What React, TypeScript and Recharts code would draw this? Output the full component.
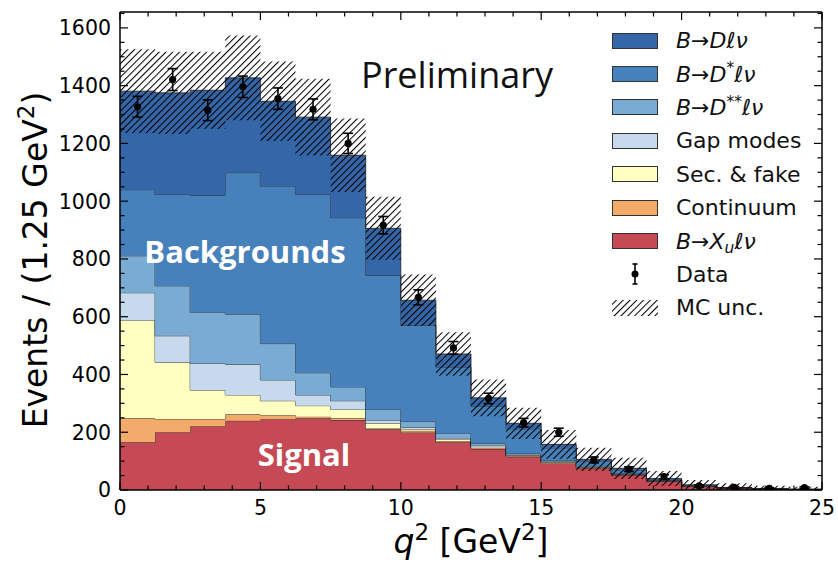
import React from "react";
import {
  ComposedChart,
  Area,
  Scatter,
  ErrorBar,
  XAxis,
  YAxis,
  Legend,
  ReferenceLine,
} from "recharts";

// q^2 bin edges [GeV^2], 1.25 GeV^2 wide bins
const binEdges = [
  0, 1.25, 2.5, 3.75, 5, 6.25, 7.5, 8.75, 10, 11.25, 12.5, 13.75, 15, 16.25,
  17.5, 18.75, 20, 21.25, 22.5, 23.75, 25,
];

// MC templates, events per bin (stack order bottom -> top)
const xuVals = [165, 200, 221, 240, 245, 248, 242, 210, 199, 165, 142, 115, 92, 75, 52, 30, 12, 6, 3, 1.5];
const contVals = [83, 46, 25, 22, 15, 6, 6, 3, 6, 5, 4, 3, 3, 2, 1, 1, 0.5, 0.3, 0.2, 0.1];
const secVals = [340, 196, 100, 67, 49, 38, 31, 18, 6, 6, 4, 2, 2, 2, 1, 1, 0.5, 0.3, 0.2, 0.1];
const gapVals = [95, 92, 92, 106, 72, 37, 30, 11, 6, 4, 5, 2, 2, 1, 1, 1, 0.5, 0.4, 0.2, 0.1];
const dssVals = [128, 173, 177, 174, 126, 77, 48, 37, 20, 16, 6, 4, 4, 3, 2, 1, 0.5, 0.3, 0.2, 0.1];
const dstVals = [229, 316, 406, 490, 545, 617, 586, 465, 334, 229, 129, 86, 43, 16, 13, 2, 2, 1, 0.7, 0.5];
const dVals = [341, 352, 363, 328, 294, 268, 216, 162, 86, 46, 29, 19, 12, 7, 5, 4, 2, 0.7, 0.5, 0.6];

// total MC uncertainty per bin
const mcUnc = [145, 142, 133, 147, 138, 133, 127, 109, 89, 75, 64, 54, 50, 40, 37, 26, 17, 14, 10, 8];

// data
const dataVals = [1327, 1421, 1315, 1396, 1355, 1318, 1200, 917, 667, 492, 317, 233, 200, 104, 72, 46, 14, 9, 6, 8];
const dataErrs = [36, 38, 36, 37, 37, 36, 35, 30, 26, 22, 18, 15, 14, 10, 8, 7, 4, 3, 2, 3];

const xTicks = [0, 1, 2, 3, 4, 5, 6, 7, 8, 9, 10, 11, 12, 13, 14, 15, 16, 17, 18, 19, 20, 21, 22, 23, 24, 25];
const xMajor = [0, 5, 10, 15, 20, 25];
const yTicks = [
  0, 50, 100, 150, 200, 250, 300, 350, 400, 450, 500, 550, 600, 650, 700, 750, 800,
  850, 900, 950, 1000, 1050, 1100, 1150, 1200, 1250, 1300, 1350, 1400, 1450, 1500,
  1550, 1600, 1650,
];
const yMajor = [0, 200, 400, 600, 800, 1000, 1200, 1400, 1600];
const Y_MAX = 1655;

const colors = {
  d: "#3466a8",
  dst: "#4781bb",
  dss: "#7aabd3",
  gap: "#c7d9ec",
  sec: "#ffffc2",
  cont: "#f2ab6b",
  xu: "#c64a55",
};

const W = 838;
const H = 564;
const PLOT_TOP = 12;
const PLOT_RIGHT = 822;
const FONT = "'DejaVu Sans', sans-serif";
const HATCH = 4.8;

// stepAfter needs one extra point at the right edge repeating the last bin
const histRows = binEdges.map((x, i) => {
  const k = Math.min(i, xuVals.length - 1);
  const total = xuVals[k] + contVals[k] + secVals[k] + gapVals[k] + dssVals[k] + dstVals[k] + dVals[k];
  return {
    x,
    xu: xuVals[k],
    cont: contVals[k],
    sec: secVals[k],
    gap: gapVals[k],
    dss: dssVals[k],
    dst: dstVals[k],
    d: dVals[k],
    band: [total - mcUnc[k], total + mcUnc[k]],
  };
});

const dataPoints = dataVals.map((y, i) => ({
  x: (binEdges[i] + binEdges[i + 1]) / 2,
  y,
  err: dataErrs[i],
}));

function XTick(props: any) {
  const { x, y, payload } = props;
  const major = xMajor.includes(payload.value);
  const len = major ? 8 : 4.5;
  return (
    <g>
      <line x1={x} x2={x} y1={y} y2={y - len} stroke="#000" strokeWidth={1.2} />
      <line x1={x} x2={x} y1={PLOT_TOP} y2={PLOT_TOP + len} stroke="#000" strokeWidth={1.2} />
      {major && (
        <text x={x} y={y + 25} textAnchor="middle" fontSize={20.5} fontFamily={FONT} fill="#000">
          {payload.value}
        </text>
      )}
    </g>
  );
}

function YTick(props: any) {
  const { x, y, payload } = props;
  const major = yMajor.includes(payload.value);
  const len = major ? 8 : 4.5;
  return (
    <g>
      <line x1={x} x2={x + len} y1={y} y2={y} stroke="#000" strokeWidth={1.2} />
      <line x1={PLOT_RIGHT} x2={PLOT_RIGHT - len} y1={y} y2={y} stroke="#000" strokeWidth={1.2} />
      {major && (
        <text x={x - 9} y={y} dy="0.36em" textAnchor="end" fontSize={20.5} fontFamily={FONT} fill="#000">
          {payload.value}
        </text>
      )}
    </g>
  );
}

const sup = (s: string) => (
  <span style={{ fontSize: "0.7em", position: "relative", top: "-0.55em" }}>{s}</span>
);
const sub = (s: string) => (
  <span style={{ fontSize: "0.7em", position: "relative", top: "0.3em", fontStyle: "italic" }}>{s}</span>
);

const legendItems: { key: string; label: React.ReactNode }[] = [
  { key: "d", label: <><i>B</i>→<i>D</i><i>ℓν</i></> },
  { key: "dst", label: <><i>B</i>→<i>D</i>{sup("*")}<i>ℓν</i></> },
  { key: "dss", label: <><i>B</i>→<i>D</i>{sup("**")}<i>ℓν</i></> },
  { key: "gap", label: "Gap modes" },
  { key: "sec", label: "Sec. & fake" },
  { key: "cont", label: "Continuum" },
  { key: "xu", label: <><i>B</i>→<i>X</i>{sub("u")}<i>ℓν</i></> },
  { key: "data", label: "Data" },
  { key: "unc", label: "MC unc." },
];

function HatchPattern({ id }: { id: string }) {
  return (
    <pattern id={id} patternUnits="userSpaceOnUse" width={HATCH} height={HATCH} patternTransform="rotate(45)">
      <line x1={0} y1={0} x2={0} y2={HATCH} stroke="#000" strokeWidth={2.1} />
    </pattern>
  );
}

function LegendBox() {
  return (
    <div style={{ fontFamily: FONT, fontSize: 22, color: "#111" }}>
      {legendItems.map((it) => (
        <div key={it.key} style={{ height: 33.4, display: "flex", alignItems: "center", whiteSpace: "nowrap" }}>
          <svg width={46} height={22} style={{ flex: "none", marginRight: 18 }}>
            <defs>
              <HatchPattern id="legHatch" />
            </defs>
            {it.key === "data" ? (
              <g>
                <line x1={23} x2={23} y1={1} y2={21} stroke="#000" strokeWidth={1.6} />
                <line x1={20.5} x2={25.5} y1={1} y2={1} stroke="#000" strokeWidth={1.6} />
                <line x1={20.5} x2={25.5} y1={21} y2={21} stroke="#000" strokeWidth={1.6} />
                <circle cx={23} cy={11} r={3.5} fill="#000" />
              </g>
            ) : it.key === "unc" ? (
              <rect x={0} y={3} width={46} height={16} fill="url(#legHatch)" />
            ) : (
              <rect
                x={0.5}
                y={3.5}
                width={45}
                height={15}
                fill={(colors as any)[it.key]}
                stroke="#333"
                strokeWidth={1}
              />
            )}
          </svg>
          <span>{it.label}</span>
        </div>
      ))}
    </div>
  );
}

function DataDot(props: any) {
  const { cx, cy } = props;
  return <circle cx={cx} cy={cy} r={3.6} fill="#000" />;
}

export default function App() {
  const edge = "#1f1f1f";
  return (
    <div style={{ width: W, height: H, position: "relative" }}>
      <style>{"html,body{margin:0;padding:0;overflow:hidden;background:#fff}"}</style>
      <ComposedChart
        width={W}
        height={H}
        data={histRows}
        margin={{ top: PLOT_TOP, right: W - PLOT_RIGHT, bottom: 0, left: 0 }}
      >
        <defs>
          <HatchPattern id="mcHatch" />
        </defs>
        <Area dataKey="xu" stackId="mc" type="stepAfter" fill={colors.xu} fillOpacity={1} stroke={edge} strokeWidth={0.8} isAnimationActive={false} />
        <Area dataKey="cont" stackId="mc" type="stepAfter" fill={colors.cont} fillOpacity={1} stroke={edge} strokeWidth={0.8} isAnimationActive={false} />
        <Area dataKey="sec" stackId="mc" type="stepAfter" fill={colors.sec} fillOpacity={1} stroke={edge} strokeWidth={0.8} isAnimationActive={false} />
        <Area dataKey="gap" stackId="mc" type="stepAfter" fill={colors.gap} fillOpacity={1} stroke={edge} strokeWidth={0.8} isAnimationActive={false} />
        <Area dataKey="dss" stackId="mc" type="stepAfter" fill={colors.dss} fillOpacity={1} stroke={edge} strokeWidth={0.8} isAnimationActive={false} />
        <Area dataKey="dst" stackId="mc" type="stepAfter" fill={colors.dst} fillOpacity={1} stroke={edge} strokeWidth={0.8} isAnimationActive={false} />
        <Area dataKey="d" stackId="mc" type="stepAfter" fill={colors.d} fillOpacity={1} stroke={edge} strokeWidth={0.8} isAnimationActive={false} />
        <Area dataKey="band" type="stepAfter" fill="url(#mcHatch)" fillOpacity={1} stroke="none" isAnimationActive={false} />
        <Scatter data={dataPoints} dataKey="y" fill="#000" shape={DataDot} isAnimationActive={false}>
          <ErrorBar dataKey="err" direction="y" width={5} stroke="#000" strokeWidth={1.6} isAnimationActive={false} />
        </Scatter>

        <XAxis
          dataKey="x"
          type="number"
          domain={[0, 25]}
          ticks={xTicks}
          interval={0}
          allowDataOverflow
          height={H - 490}
          tickSize={0}
          tickMargin={0}
          tickLine={false}
          tick={XTick}
          axisLine={{ stroke: "#000", strokeWidth: 1.5 }}
        />
        <YAxis
          type="number"
          domain={[0, Y_MAX]}
          ticks={yTicks}
          interval={0}
          allowDataOverflow
          width={120}
          tickSize={0}
          tickMargin={0}
          tickLine={false}
          tick={YTick}
          axisLine={{ stroke: "#000", strokeWidth: 1.5 }}
        />
        <ReferenceLine y={Y_MAX} stroke="#000" strokeWidth={1.5} />
        <ReferenceLine x={25} stroke="#000" strokeWidth={1.5} />

        <Legend
          layout="vertical"
          align="center"
          verticalAlign="middle"
          content={LegendBox}
          wrapperStyle={{ left: 612, top: 24, width: 220 }}
        />

        <text x={471} y={553} textAnchor="middle" fontFamily={FONT} fontSize={33} fill="#000">
          <tspan fontStyle="italic">q</tspan>
          <tspan dy={-13} fontSize={23}>2</tspan>
          <tspan dy={13}> [GeV</tspan>
          <tspan dy={-13} fontSize={23}>2</tspan>
          <tspan dy={13}>]</tspan>
        </text>
        <text
          x={47}
          y={260}
          transform="rotate(-90, 47, 260)"
          textAnchor="middle"
          fontFamily={FONT}
          fontSize={33}
          fill="#000"
        >
          Events / (1.25 GeV
          <tspan dy={-13} fontSize={23}>2</tspan>
          <tspan dy={13}>)</tspan>
        </text>
      </ComposedChart>
      {/* annotations drawn on top of the stacked histogram */}
      <svg
        width={W}
        height={H}
        style={{ position: "absolute", left: 0, top: 0, pointerEvents: "none" }}
      >
        <text x={361} y={88} fontFamily="'Open Sans', sans-serif" fontSize={36} fill="#111">
          Preliminary
        </text>
        <text x={245} y={263} textAnchor="middle" fontFamily="'Open Sans', sans-serif" fontWeight={700} fontSize={31} fill="#fff">
          Backgrounds
        </text>
        <text x={304} y={466} textAnchor="middle" fontFamily="'Open Sans', sans-serif" fontWeight={700} fontSize={31} fill="#fff">
          Signal
        </text>
      </svg>
    </div>
  );
}
